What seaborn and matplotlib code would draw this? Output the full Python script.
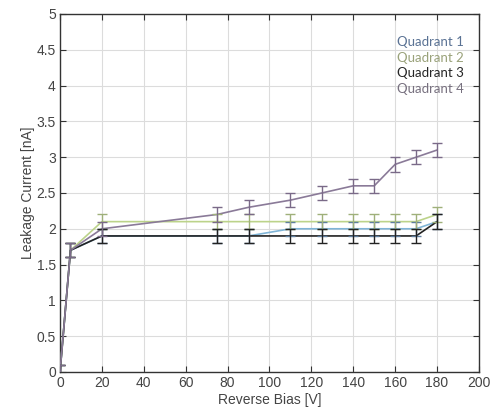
import numpy as np
import pandas as pd
import seaborn as sns
import matplotlib.pyplot as plt

# Leakage current vs reverse bias, per quadrant
bias = [0, 5, 20, 75, 90, 110, 125, 140, 150, 160, 170, 180]
q1 = [0.0, 1.7, 1.9, 1.9, 1.9, 2.0, 2.0, 2.0, 2.0, 2.0, 2.0, 2.1]
q2 = [0.0, 1.7, 2.1, 2.1, 2.1, 2.1, 2.1, 2.1, 2.1, 2.1, 2.1, 2.2]
q3 = [0.0, 1.7, 1.9, 1.9, 1.9, 1.9, 1.9, 1.9, 1.9, 1.9, 1.9, 2.1]
q4 = [0.0, 1.7, 2.0, 2.2, 2.3, 2.4, 2.5, 2.6, 2.6, 2.9, 3.0, 3.1]
err = 0.1

names = ["Quadrant 1", "Quadrant 2", "Quadrant 3", "Quadrant 4"]
line_colors = ["#7fb4d6", "#bcd38a", "#222222", "#8a7a98"]
cap_colors = ["#5f7f9f", "#9fb07a", "#222222", "#7a6a88"]
text_colors = ["#5a7294", "#9aa27a", "#262626", "#77707f"]

df = pd.DataFrame({
    "bias": bias * 4,
    "current": q1 + q2 + q3 + q4,
    "quadrant": np.repeat(names, len(bias)),
})

sns.set_style("white")
plt.rcParams["font.family"] = ["Liberation Sans", "DejaVu Sans"]

fig = plt.figure(figsize=(4.94, 4.19), dpi=100)
ax = fig.add_axes([0.1215, 0.1122, 0.848, 0.8544])

sns.lineplot(data=df, x="bias", y="current", hue="quadrant",
             palette=dict(zip(names, line_colors)), linewidth=1.2,
             legend=False, ax=ax, zorder=3)

for name, cc in zip(names, cap_colors):
    sub = df[df["quadrant"] == name]
    ax.errorbar(sub["bias"], sub["current"], yerr=err, fmt="none",
                ecolor=cc, elinewidth=1.0, capsize=3.3, capthick=1.0, zorder=4)

ax.set_xlim(0, 200)
ax.set_ylim(0, 5)
ax.set_xticks(np.arange(0, 201, 20))
ax.set_yticks(np.arange(0, 5.01, 0.5))
ax.set_yticklabels(["0", "0.5", "1", "1.5", "2", "2.5", "3", "3.5", "4", "4.5", "5"])
ax.grid(True, color="#dcdcdc", linewidth=0.8)
ax.set_axisbelow(True)
for s in ax.spines.values():
    s.set_color("#333333")
    s.set_linewidth(1.0)
    s.set_visible(True)
ax.tick_params(direction="in", length=4, width=0.8, colors="#333333",
               labelcolor="#444444", labelsize=10, top=True, right=True,
               bottom=True, left=True, pad=3)
ax.set_xlabel("Reverse Bias [V]", fontsize=10, color="#444444", labelpad=2)
ax.set_ylabel("Leakage Current [nA]", fontsize=10, color="#444444", labelpad=1)

for i, (name, tc) in enumerate(zip(names, text_colors)):
    ax.text(0.805, 0.922 - i * 0.044, name, transform=ax.transAxes,
            fontsize=9.5, color=tc, family=["Lato", "DejaVu Sans"],
            va="center", ha="left")

plt.savefig("out.png", dpi=100)
